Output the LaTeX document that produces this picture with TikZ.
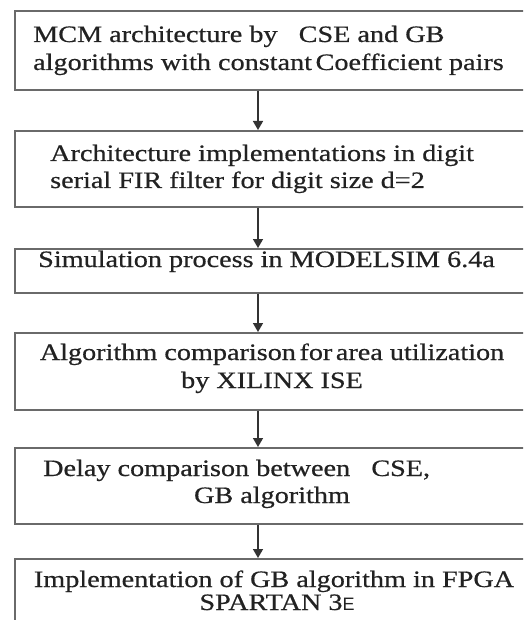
\documentclass[tikz,border=0pt]{standalone}
\usepackage{fontspec}
\setmainfont[FakeStretch=1.2,FakeBold=0.6]{Liberation Serif}
\setsansfont{Liberation Sans}
\usetikzlibrary{arrows.meta}
\definecolor{boxline}{HTML}{6A6A6A}
\definecolor{txt}{HTML}{222222}
\definecolor{arr}{HTML}{333333}
\tikzset{
  stepbox/.style={rectangle, draw=boxline, line width=1.7pt, anchor=north west,
    minimum width=540pt, inner sep=0pt},
  lbl/.style={text=txt, inner sep=0pt, font=\fontsize{23.5}{28}\selectfont},
  flow/.style={draw=arr, line width=1.5pt, -{Triangle[width=10pt,length=9pt]}}
}
\begin{document}
\begin{tikzpicture}[x=1pt,y=-1pt]
\useasboundingbox (0,0) rectangle (523,620);
\clip (0,0) rectangle (523,620);
\fill[white] (0,0) rectangle (523,620);
\coordinate (ax) at (258,0);
% boxes
\node[stepbox, minimum height=79pt] (b1) at (14,10) {};
\node[stepbox, minimum height=76pt] (b2) at (14,130) {};
\node[stepbox, minimum height=44pt] (b3) at (14,248) {};
\node[stepbox, minimum height=77pt] (b4) at (14,332) {};
\node[stepbox, minimum height=76pt] (b5) at (14,447) {};
\node[stepbox, minimum height=80pt] (b6) at (14,558) {};
% texts
\node[lbl, anchor=base west] (t1a) at (33,42) {MCM architecture by\hspace{0.9em}CSE and GB};
\node[lbl, anchor=base west] (t1b) at (33,70) {algorithms with constant\hspace{0.15em}Coefficient pairs};
\node[lbl, anchor=base west] (t2a) at (50,161) {Architecture implementations in digit};
\node[lbl, anchor=base west] (t2b) at (50,188) {serial FIR filter for digit size d=2};
\node[lbl, anchor=base west] (t3) at (38,267) {Simulation process in MODELSIM 6.4a};
\node[lbl, anchor=base] (t4a) at (272,360) {Algorithm comparison\hspace{0.15em}for\hspace{0.15em}area utilization};
\node[lbl, anchor=base] (t4b) at (272,388) {by XILINX ISE};
\node[lbl, anchor=base west] (t5a) at (43,476) {Delay comparison between\hspace{0.9em}CSE,};
\node[lbl, anchor=base] (t5b) at (272,503) {GB algorithm};
\node[lbl, anchor=base] (t6a) at (274,587) {Implementation of GB algorithm in FPGA};
\node[lbl, anchor=base] (t6b) at (277,610) {SPARTAN 3{\sffamily\fontsize{18}{20}\selectfont E}};
% connectors
\draw[flow] (b1.south -| ax) -- (b2.north -| ax);
\draw[flow] (b2.south -| ax) -- (b3.north -| ax);
\draw[flow] (b3.south -| ax) -- (b4.north -| ax);
\draw[flow] (b4.south -| ax) -- (b5.north -| ax);
\draw[flow] (b5.south -| ax) -- (b6.north -| ax);
\end{tikzpicture}
\end{document}
